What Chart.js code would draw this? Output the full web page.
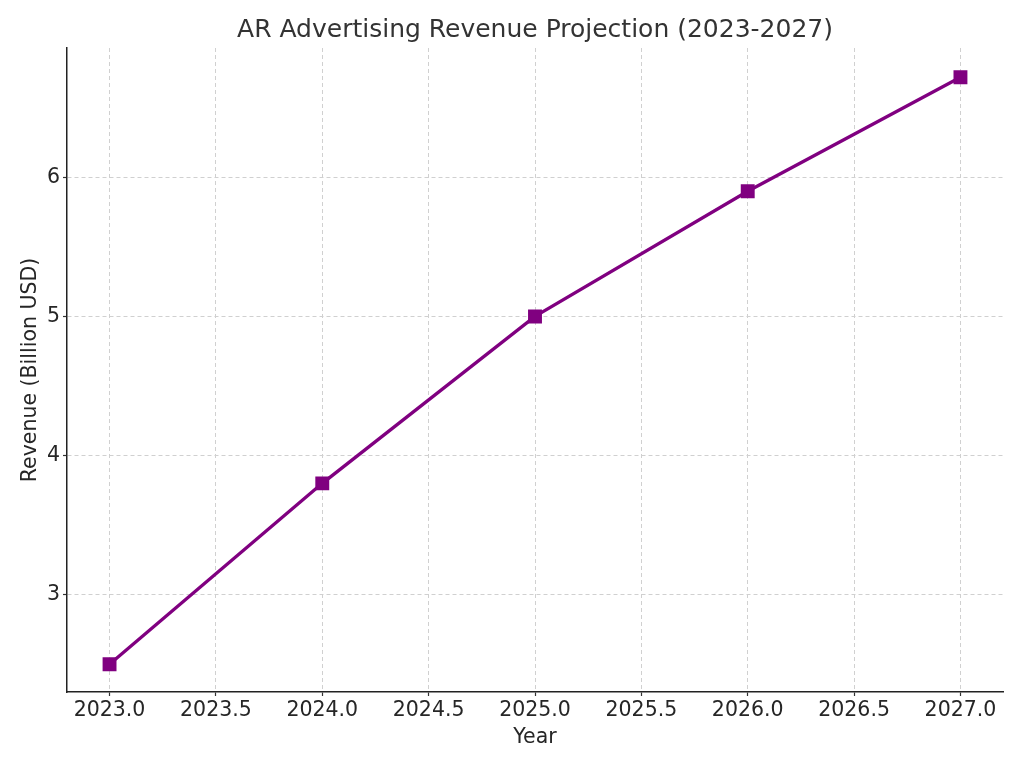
<!DOCTYPE html>
<html>
<head>
<meta charset="utf-8">
<script src="https://cdn.jsdelivr.net/npm/chart.js@4"></script>
<style>
  html, body { margin: 0; padding: 0; background: #fff; }
  #wrap { width: 1024px; height: 768px; }
</style>
</head>
<body>
<div id="wrap"><canvas id="myChart" width="1024" height="768"></canvas></div>
<script>
// data
const years = [2023, 2024, 2025, 2026, 2027];
const revenue = [2.5, 3.8, 5.0, 5.9, 6.72];
const chartTitle = 'AR Advertising Revenue Projection (2023-2027)';

const fontFamily = "'DejaVu Sans', sans-serif";
const gridColor = '#d0d0d0';
const textColor = '#262626';

// title centred over the plot area (not the whole canvas)
const plotTitle = {
    id: 'plotTitle',
    afterDraw(chart) {
        const c = chart.ctx;
        const area = chart.chartArea;
        c.save();
        c.font = '25px ' + fontFamily;
        c.fillStyle = '#333333';
        c.textAlign = 'center';
        c.textBaseline = 'middle';
        c.fillText(chartTitle, (area.left + area.right) / 2, 30);
        c.restore();
    }
};

const ctx = document.getElementById('myChart').getContext('2d');
const myChart = new Chart(ctx, {
    type: 'line',
    data: {
        datasets: [{
            label: 'Revenue',
            data: years.map((y, i) => ({ x: y, y: revenue[i] })),
            borderColor: '#800080',
            backgroundColor: '#800080',
            borderWidth: 3.3,
            pointStyle: 'rect',
            pointRadius: 7.5,
            pointHoverRadius: 7.5,
            fill: false,
            tension: 0
        }]
    },
    options: {
        responsive: false,
        animation: false,
        layout: { padding: { left: 0, right: 21, top: 48, bottom: 0 } },
        scales: {
            x: {
                type: 'linear',
                min: 2022.8,
                max: 2027.2,
                afterFit: s => { s.height = 76; },
                ticks: {
                    stepSize: 0.5,
                    includeBounds: false,
                    color: textColor,
                    font: { family: fontFamily, size: 20.5 },
                    padding: 2,
                    callback: v => v.toFixed(1)
                },
                grid: {
                    color: gridColor,
                    tickLength: 4,
                    tickColor: '#333',
                    tickBorderDash: [],
                    tickWidth: 1.2
                },
                border: { display: true, color: '#222', width: 1.5, dash: [4, 3] },
                title: {
                    display: true,
                    text: 'Year',
                    color: textColor,
                    font: { family: fontFamily, size: 20.5 },
                    padding: { top: 0, bottom: 18 }
                }
            },
            y: {
                type: 'linear',
                min: 2.3,
                max: 6.93,
                afterFit: s => { s.width = 67; },
                ticks: {
                    stepSize: 1,
                    includeBounds: false,
                    color: textColor,
                    font: { family: fontFamily, size: 20.5 },
                    padding: 3,
                    callback: v => v.toString()
                },
                grid: {
                    color: gridColor,
                    tickLength: 4,
                    tickColor: '#333',
                    tickBorderDash: [],
                    tickWidth: 1.2
                },
                border: { display: true, color: '#222', width: 1.5, dash: [4, 3] },
                title: {
                    display: true,
                    text: 'Revenue (Billion USD)',
                    color: textColor,
                    font: { family: fontFamily, size: 20.5 },
                    padding: { top: 18, bottom: 0 }
                }
            }
        },
        plugins: {
            legend: { display: false },
            tooltip: { enabled: false },
            title: { display: false }
        }
    },
    plugins: [plotTitle]
});
</script>
</body>
</html>
